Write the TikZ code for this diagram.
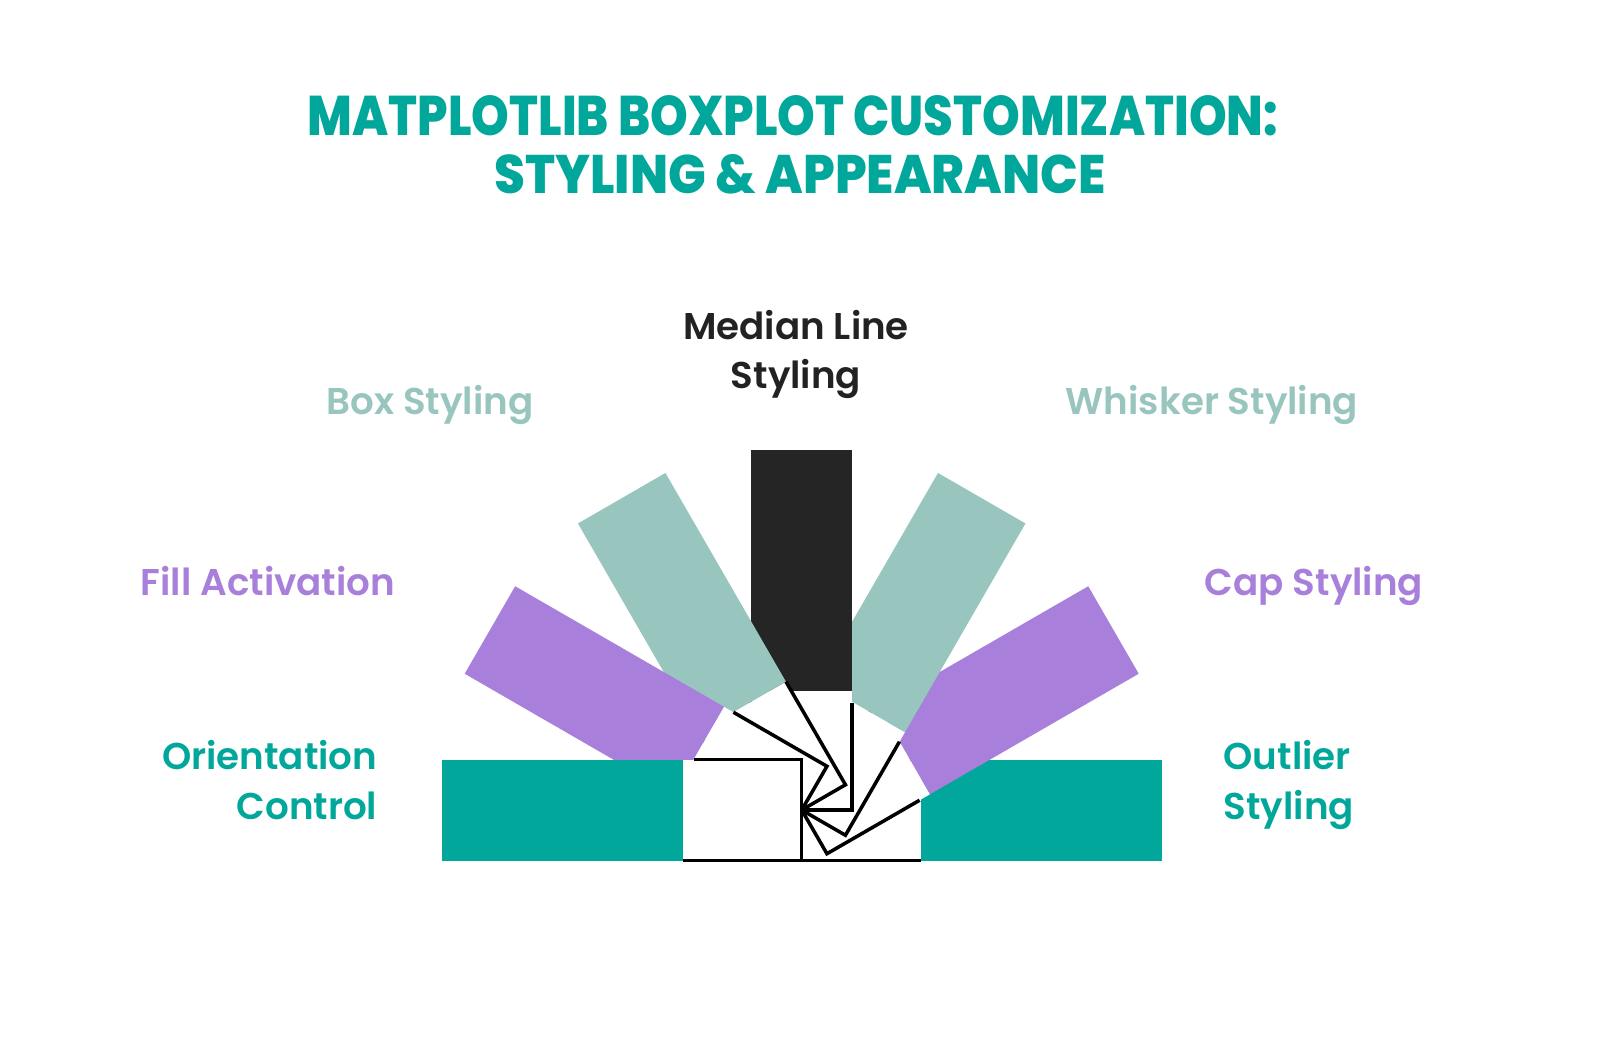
\documentclass[tikz,border=0pt]{standalone}
\usepackage{fontspec}
\setmainfont{Poppins}
\newfontfamily\titlefont{Poppins ExtraBold}
\newfontfamily\labelfont{Poppins SemiBold}

\definecolor{tealbox}{RGB}{0,167,154}
\definecolor{sagebox}{RGB}{153,197,191}
\definecolor{lilacbox}{RGB}{168,127,218}
\definecolor{inkbox}{RGB}{37,37,37}
\definecolor{inktext}{RGB}{34,34,34}

\tikzset{
  title/.style={font=\titlefont, text=tealbox, inner sep=0pt, anchor=base},
  lbl/.style={font=\labelfont\fontsize{10.6}{14.2}\selectfont, inner sep=0pt, anchor=base}
}

\begin{document}
\begin{tikzpicture}

  \useasboundingbox (0,0) rectangle (16,10.42);
  \fill[white] (0,0) rectangle (16,10.42);

  % Titel
  \node[title] (title1) at (7.93,9.06) {\resizebox{9.70cm}{0.40cm}{MATPLOTLIB BOXPLOT CUSTOMIZATION:}};
  \node[title] (title2) at (8.00,8.48) {\resizebox{6.11cm}{0.39cm}{STYLING \& APPEARANCE}};

  % Drehpunkt des Faechers
  \coordinate (P) at (8.017,2.32);
  \def\len{3.60}
  \def\wid{1.01}
  \def\cut{1.19}

  % Boxen, von rechts nach links gestapelt
  \foreach \ang/\col/\edge in {0/tealbox/1.19, 30/lilacbox/1.07, 60/sagebox/1.08,
      90/inkbox/1.07, 120/sagebox/1.19, 150/lilacbox/1.08, 180/tealbox/1.08}{
    \begin{scope}[shift={(P)}, rotate=\ang]
      \fill[white] (0,-\wid/2) rectangle (\cut,\wid/2);
      \fill[\col] (\cut,-\wid/2) rectangle (\len,\wid/2);
      \draw[line width=1pt] (\edge,-\wid/2) -- (0,-\wid/2) -- (0,\wid/2) -- (\cut,\wid/2);
    \end{scope}
  }

  % Beschriftungen
  \node[lbl, text=inktext, align=center] (median) at (7.96,6.53) {Median Line\\Styling};
  \node[lbl, text=sagebox] (boxlbl) at (4.30,6.27) {Box Styling};
  \node[lbl, text=sagebox] (whisker) at (12.12,6.27) {Whisker Styling};
  \node[lbl, text=lilacbox] (fill) at (2.68,4.46) {Fill Activation};
  \node[lbl, text=lilacbox] (cap) at (13.14,4.46) {Cap Styling};
  \node[lbl, text=tealbox, align=right, anchor=base east] (orient) at (3.78,2.23) {Orientation\\Control};
  \node[lbl, text=tealbox, align=left, anchor=base west] (outlier) at (12.23,2.23) {Outlier\\Styling};

\end{tikzpicture}
\end{document}
